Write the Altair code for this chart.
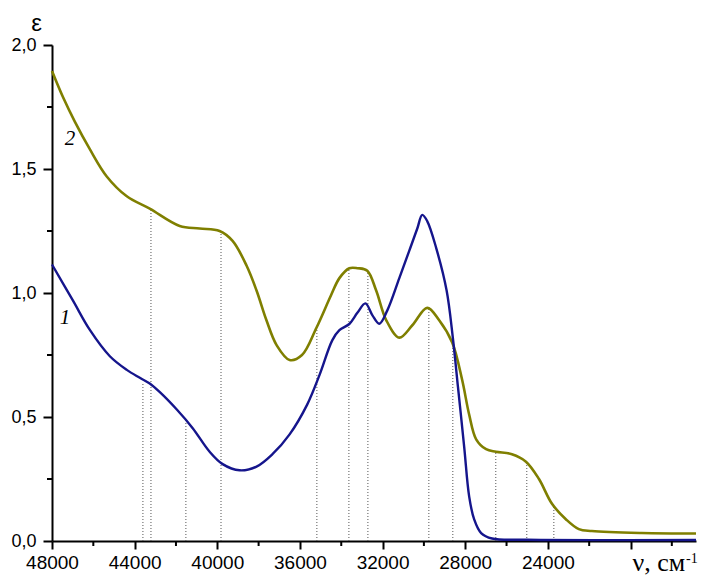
import altair as alt
import pandas as pd

# Curve 1 (blue)
blue_x = [48000, 46990, 46160, 45200, 44380, 43750, 43270, 42780, 41960, 41190,
          40370, 39740, 38920, 38100, 37330, 36500, 35650, 35050, 34430, 34090,
          33610, 33220, 32830, 32490, 32160, 31770, 31190, 30710, 30320, 30080,
          29840, 29400, 28900, 28600, 28350, 28050, 27810, 27570, 27230, 26700,
          25000, 16830]
blue_y = [1.115, 0.97, 0.85, 0.745, 0.69, 0.658, 0.635, 0.60, 0.53, 0.455,
          0.36, 0.31, 0.285, 0.30, 0.35, 0.43, 0.55, 0.67, 0.81, 0.85,
          0.875, 0.92, 0.958, 0.91, 0.876, 0.93, 1.06, 1.17, 1.26, 1.315,
          1.29, 1.18, 1.01, 0.82, 0.62, 0.38, 0.18, 0.088, 0.032, 0.01,
          0.005, 0.004]

# Curve 2 (olive)
olive_x = [48000, 47470, 46890, 46170, 45350, 44380, 43270, 41820, 40850, 39890,
           39260, 38580, 38100, 37620, 37130, 36500, 35900, 35200, 34500, 34090,
           33610, 33200, 32740, 32310, 31820, 31190, 30560, 29840, 29260, 28630,
           28150, 27810, 27470, 26990, 26510, 25740, 25060, 24430, 23800, 23130,
           22500, 21870, 19460, 16830]
olive_y = [1.895, 1.79, 1.69, 1.58, 1.47, 1.39, 1.34, 1.27, 1.26, 1.25,
           1.21, 1.11, 1.01, 0.89, 0.79, 0.73, 0.75, 0.86, 0.99, 1.06,
           1.10, 1.10, 1.09, 1.01, 0.89, 0.82, 0.87, 0.94, 0.89, 0.80,
           0.65, 0.51, 0.41, 0.37, 0.36, 0.35, 0.32, 0.25, 0.15, 0.088,
           0.048, 0.04, 0.032, 0.03]

# Dotted guide lines
dot_x = [43600, 43210, 41520, 39820, 35180, 33630, 32710, 29760, 28600, 26520, 25020, 23710]
dot_top = [0.635, 1.34, 0.49, 1.25, 0.86, 1.10, 1.09, 0.94, 0.80, 0.36, 0.32, 0.145]

# Curve labels
label_x = [47370, 47130]
label_y = [0.90, 1.62]
label_text = ["1", "2"]

x_major = [48000, 44000, 40000, 36000, 32000, 28000, 24000, 20000]
x_minor = [46000, 42000, 38000, 34000, 30000, 26000, 22000, 18000]
y_major = [0, 0.5, 1.0, 1.5, 2.0]
y_minor = [0.25, 0.75, 1.25, 1.75]

W, H = 644, 496

blue_df = pd.DataFrame({"x": blue_x, "y": blue_y})
olive_df = pd.DataFrame({"x": olive_x, "y": olive_y})
dot_df = pd.DataFrame({"x": dot_x, "y": [0] * len(dot_x), "top": dot_top})
lab_df = pd.DataFrame({"x": label_x, "y": label_y, "t": label_text})
xmin_df = pd.DataFrame({"x": x_minor})
ymin_df = pd.DataFrame({"y": y_minor})

xs = alt.Scale(domain=[16830, 48000], reverse=True, nice=False, zero=False)
ys = alt.Scale(domain=[0, 2], nice=False, zero=False)

x_axis = alt.Axis(
    values=x_major, format="d",
    labelExpr="datum.value == 20000 ? '' : datum.label",
    labelFont="Liberation Sans", labelFontSize=19, labelColor="black",
    labelPadding=4, labelFlush=False, labelOverlap=False,
    tickSize=8, tickWidth=2, tickColor="black",
    domainWidth=2, domainColor="black", grid=False,
    title="ν, см", titleFont="Liberation Serif", titleFontSize=26,
    titleFontWeight="normal", titleColor="black",
    titleX=580, titleY=29, titleAlign="left", titleBaseline="alphabetic",
)
y_axis = alt.Axis(
    values=y_major,
    labelExpr="replace(format(datum.value, '.1f'), '.', ',')",
    labelFont="Liberation Sans", labelFontSize=18, labelColor="black",
    labelPadding=7, labelFlush=False, labelOverlap=False,
    tickSize=9, tickWidth=2, tickColor="black",
    domainWidth=2, domainColor="black", grid=False,
    title="ε", titleFont="Liberation Sans", titleFontSize=24,
    titleFontWeight="normal", titleColor="black", titleAngle=0,
    titleX=-16, titleY=-15, titleAlign="center", titleBaseline="alphabetic",
)

X = lambda f: alt.X(f, scale=xs, axis=x_axis)
Y = lambda f: alt.Y(f, scale=ys, axis=y_axis)

dots = alt.Chart(dot_df).mark_rule(color="#555555", strokeWidth=1, strokeDash=[1, 2]).encode(
    x=X("x:Q"), y=Y("y:Q"), y2="top:Q",
)

olive = alt.Chart(olive_df).mark_line(color="#7f7f00", strokeWidth=2.6, interpolate="catmull-rom").encode(
    x=X("x:Q"), y=Y("y:Q"), order=alt.Order("x:Q", sort="descending"),
)

blue = alt.Chart(blue_df).mark_line(color="#15158c", strokeWidth=2.4, interpolate="catmull-rom").encode(
    x=X("x:Q"), y=Y("y:Q"), order=alt.Order("x:Q", sort="descending"),
)

xminor = alt.Chart(xmin_df).mark_rule(color="black", strokeWidth=2).encode(
    x=X("x:Q"), y=alt.value(H), y2=alt.value(H + 5),
)

yminor = alt.Chart(ymin_df).mark_rule(color="black", strokeWidth=2).encode(
    y=Y("y:Q"), x=alt.value(-5), x2=alt.value(0),
)

labels = alt.Chart(lab_df).mark_text(
    font="Liberation Serif", fontSize=21, fontStyle="italic", color="black",
    align="center", baseline="middle",
).encode(x=X("x:Q"), y=Y("y:Q"), text="t:N")

sup = alt.Chart(pd.DataFrame({"t": ["-1"]})).mark_text(
    font="Liberation Serif", fontSize=14, color="black", align="left", baseline="alphabetic",
).encode(x=alt.value(634), y=alt.value(518), text="t:N")

chart = alt.layer(dots, olive, blue, xminor, yminor, labels, sup).properties(
    width=W, height=H, background="white",
    autosize=alt.AutoSizeParams(type="none"),
    padding={"left": 44, "top": 37, "right": 2, "bottom": 35},
).configure_view(stroke=None)

chart.save("out.html", embed_options={"renderer": "svg", "actions": False})
